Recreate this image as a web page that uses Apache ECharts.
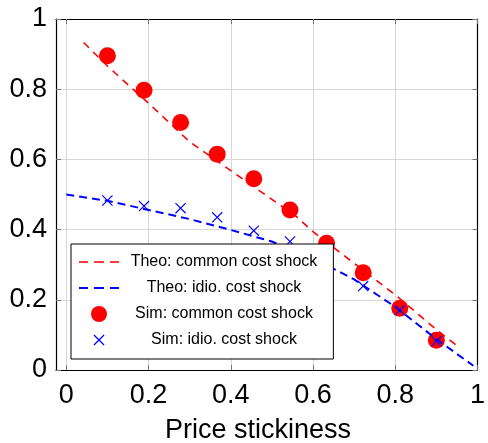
<!DOCTYPE html>
<html>
<head>
<meta charset="utf-8">
<script src="https://cdn.jsdelivr.net/npm/echarts@6/dist/echarts.min.js"></script>
<style>
html,body{margin:0;padding:0;background:#fff;}
#chart{width:488px;height:443px;}
</style>
</head>
<body>
<div id="chart"></div>
<script>
// ---- data ----
const xTicks = [0, 0.2, 0.4, 0.6, 0.8, 1];
const yTicks = [0, 0.2, 0.4, 0.6, 0.8, 1];

const theoCommonX = [0.042, 0.1, 0.2, 0.3, 0.4, 0.5, 0.56, 0.6, 0.7, 0.8, 0.9, 0.947];
const theoCommonY = [0.933, 0.866, 0.760, 0.650, 0.568, 0.486, 0.437, 0.394, 0.304, 0.214, 0.115, 0.072];

const theoIdioX = [0, 0.1, 0.2, 0.3, 0.4, 0.5, 0.6, 0.656, 0.7, 0.8, 0.9, 0.99];
const theoIdioY = [0.5, 0.482, 0.456, 0.430, 0.399, 0.366, 0.316, 0.285, 0.258, 0.180, 0.088, 0.012];

const simX = [0.1, 0.189, 0.278, 0.367, 0.456, 0.544, 0.633, 0.722, 0.811, 0.9];
const simCommonY = [0.895, 0.797, 0.705, 0.615, 0.545, 0.456, 0.361, 0.277, 0.176, 0.085];
const simIdioY = [0.483, 0.467, 0.461, 0.435, 0.397, 0.366, 0.295, 0.239, 0.170, 0.082];

const seriesNames = ['Theo: common cost shock', 'Theo: idio. cost shock', 'Sim: common cost shock', 'Sim: idio. cost shock'];
const xLabel = 'Price stickiness';

// ---- build ----
const zip = (xs, ys) => xs.map((x, i) => [x, ys[i]]);
const FONT = 'Liberation Sans, Arial, Helvetica, sans-serif';
const crossPath = 'path://M0,0.9L0.9,0L12,11.1L11.1,12Z M11.1,0L12,0.9L0.9,12L0,11.1Z';
const crossLegend = 'path://M0,0Z M16,16Z M2.5,3.4L3.4,2.5L13.5,12.6L12.6,13.5Z M12.6,2.5L13.5,3.4L3.4,13.5L2.5,12.6Z';
const dashRedLegend = 'path://M0,0Z M40,16Z M0,7.2h9v1.6h-9z M15,7.2h10v1.6h-10z M31,7.2h9v1.6h-9z';
const dashBlueLegend = 'path://M0,0Z M40,16Z M0,7h9v2h-9z M15,7h10v2h-10z M31,7h9v2h-9z';
const fmt = v => String(Math.round(v * 10) / 10);

const chart = echarts.init(document.getElementById('chart'), null, {renderer: 'canvas'});
chart.setOption({
  animation: false,
  backgroundColor: '#fff',
  title: {
    text: xLabel, left: 160, top: 412,
    textStyle: {fontSize: 27, fontWeight: 'normal', fontFamily: FONT, color: '#000'}
  },
  grid: {left: 56, right: 5, top: 19, bottom: 73, containLabel: false},
  xAxis: [{
    type: 'value', min: -0.025, max: 1, position: 'bottom',
    axisLine: {onZero: false, lineStyle: {color: '#000', width: 1.2}},
    axisTick: {inside: true, length: 5, customValues: xTicks, lineStyle: {color: '#777', width: 1}},
    axisLabel: {customValues: xTicks, formatter: fmt, fontSize: 27, fontFamily: FONT, color: '#000', margin: 12},
    splitLine: {show: true, lineStyle: {color: '#d6d6d6', width: 1}}
  }, {
    type: 'value', min: -0.025, max: 1, position: 'top',
    axisLine: {onZero: false, lineStyle: {color: '#000', width: 1.2}},
    axisTick: {inside: true, length: 5, customValues: xTicks, lineStyle: {color: '#777', width: 1}},
    axisLabel: {show: false},
    splitLine: {show: false}
  }],
  yAxis: [{
    type: 'value', min: 0, max: 1, interval: 0.2, position: 'left',
    axisLine: {show: true, onZero: false, lineStyle: {color: '#000', width: 1.2}},
    axisTick: {show: true, inside: true, length: 5, lineStyle: {color: '#777', width: 1}},
    axisLabel: {formatter: fmt, fontSize: 27, fontFamily: FONT, color: '#000', margin: 9},
    splitLine: {show: true, lineStyle: {color: '#d6d6d6', width: 1}}
  }, {
    type: 'value', min: 0, max: 1, interval: 0.2, position: 'right',
    axisLine: {show: true, onZero: false, lineStyle: {color: '#000', width: 1.2}},
    axisTick: {show: true, inside: true, length: 5, lineStyle: {color: '#777', width: 1}},
    axisLabel: {show: false},
    splitLine: {show: false}
  }],
  legend: {
    orient: 'vertical', left: 71, top: 244,
    padding: [10, 16, 11, 8], itemGap: 10, itemWidth: 40, itemHeight: 16,
    backgroundColor: '#fff', borderColor: '#000', borderWidth: 1, borderRadius: 0,
    textStyle: {fontSize: 16, fontFamily: FONT, color: '#000',
      rich: {c: {width: 200, align: 'center', fontSize: 16, fontFamily: FONT, color: '#000'}}},
    formatter: n => '{c|' + n + '}',
    data: [
      {name: seriesNames[0], icon: dashRedLegend},
      {name: seriesNames[1], icon: dashBlueLegend},
      {name: seriesNames[2], icon: 'circle'},
      {name: seriesNames[3], icon: crossLegend}
    ]
  },
  series: [{
    name: seriesNames[0], type: 'line', data: zip(theoCommonX, theoCommonY),
    symbol: 'none', smooth: false,
    lineStyle: {color: '#ff0000', width: 1.6, type: [7.5, 6]},
    itemStyle: {color: '#ff0000'}
  }, {
    name: seriesNames[1], type: 'line', data: zip(theoIdioX, theoIdioY),
    symbol: 'none', smooth: false,
    lineStyle: {color: '#0000ff', width: 2, type: [8, 5]},
    itemStyle: {color: '#0000ff'}
  }, {
    name: seriesNames[2], type: 'scatter', data: zip(simX, simCommonY),
    symbol: 'circle', symbolSize: 17,
    itemStyle: {color: '#ff0000', opacity: 1}
  }, {
    name: seriesNames[3], type: 'scatter', data: zip(simX, simIdioY),
    symbol: crossPath, symbolSize: 11,
    itemStyle: {color: '#0000ff', opacity: 1}
  }]
});
</script>
</body>
</html>
